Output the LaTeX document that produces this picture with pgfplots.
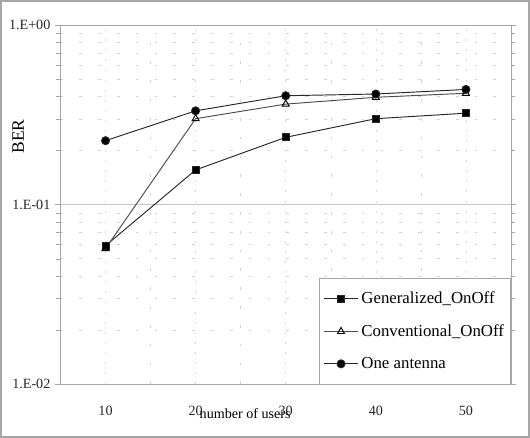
\documentclass[border=0pt]{standalone}
\usepackage{pgfplots}
\pgfplotsset{compat=1.18}
\usepackage{fontspec}
\setmainfont{Liberation Serif}
\begin{document}
\begin{tikzpicture}
\begin{axis}[
  scale only axis,
  width=335pt, height=267pt,
  xmode=normal, ymode=log,
  xmin=5, xmax=55,
  ymin=0.01, ymax=1,
  xtick={10,20,30,40,50},
  minor xtick={5,15,25,35,45,55},
  ytick={0.01,0.1,1},
  yticklabels={1.E-02,1.E-01,1.E+00},
  /pgf/number format/assume math mode=true,
  tick label style={font=\fontsize{10.5}{12}\selectfont, text=black!85},
  x tick label style={yshift=-9pt},
  tick align=outside,
  x tick style={draw=none},
  minor x tick style={draw=none},
  y tick style={draw=gray!70},
  minor y tick style={draw=gray!70},
  major tick length=4pt, minor tick length=3pt,
  axis line style={draw=gray!70, line width=0.7pt},
  grid=both,
  major y grid style={draw=gray!45, line width=0.5pt},
  major x grid style={draw=gray!30, dash pattern=on 1.5pt off 6pt},
  minor grid style={draw=gray!35, dash pattern=on 2pt off 12pt},
  xlabel={number of users},
  xlabel style={at={(rel axis cs:0.41,0)}, anchor=north, yshift=-15pt, font=\fontsize{10.5}{12}\selectfont},
  ylabel={BER},
  ylabel style={at={(rel axis cs:-0.094,0.69)}, anchor=center, font=\fontsize{13}{15}\selectfont},
  legend style={at={(rel axis cs:1,0)}, anchor=south east, draw=gray!70, fill=white,
    font=\fontsize{12.5}{15}\selectfont, inner xsep=3pt, inner ysep=8pt,
    row sep=10pt},
  legend cell align=left,
  legend image code/.code={\draw[#1, mark repeat=2, mark phase=2] plot coordinates {(0cm,0cm) (0.45cm,0cm) (0.9cm,0cm)};},
  clip=false,
]
\addplot[black!85, line width=0.7pt, mark=square*, mark size=2.6pt, mark options={fill=black}]
  coordinates {(10,0.059) (20,0.156) (30,0.237) (40,0.301) (50,0.323)};
\addlegendentry{Generalized\_OnOff}
\addplot[black!70, line width=0.7pt, mark=triangle, mark size=3pt, mark options={fill=white, black}]
  coordinates {(10,0.0569) (20,0.301) (30,0.363) (40,0.396) (50,0.417)};
\addlegendentry{Conventional\_OnOff}
\addplot[black!85, line width=0.7pt, mark=*, mark size=3pt, mark options={fill=black}]
  coordinates {(10,0.227) (20,0.333) (30,0.404) (40,0.413) (50,0.438)};
\addlegendentry{One antenna}
\draw[gray!70, line width=1.5pt] (rel axis cs:-0.132,-0.146) rectangle (rel axis cs:1.040,1.067);
\end{axis}
\end{tikzpicture}
\end{document}
